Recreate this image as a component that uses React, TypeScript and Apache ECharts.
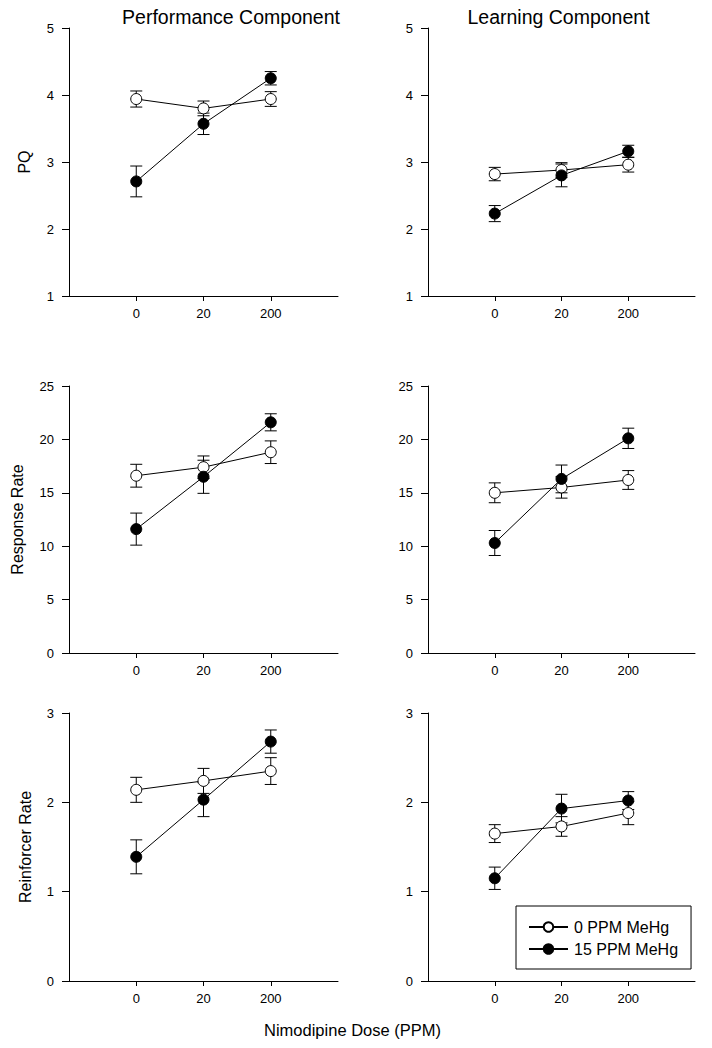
import React, { useEffect, useRef } from "react";
import * as echarts from "echarts";

// ---- data ----
const doses = ["0", "20", "200"];
const groups = ["0 PPM MeHg", "15 PPM MeHg"];
const panelTitles = ["Performance Component", "Learning Component"];
const yNames = ["PQ", "Response Rate", "Reinforcer Rate"];
const xName = "Nimodipine Dose (PPM)";
const yMin = [1, 0, 0];
const yMax = [5, 25, 3];
const yStep = [1, 5, 1];

// PQ
const pqPerfOpen = [3.94, 3.8, 3.94];
const pqPerfOpenSem = [0.12, 0.11, 0.11];
const pqPerfFilled = [2.71, 3.57, 4.25];
const pqPerfFilledSem = [0.23, 0.16, 0.1];
const pqLearnOpen = [2.82, 2.88, 2.96];
const pqLearnOpenSem = [0.1, 0.11, 0.11];
const pqLearnFilled = [2.23, 2.8, 3.16];
const pqLearnFilledSem = [0.12, 0.17, 0.09];
// Response rate
const rrPerfOpen = [16.6, 17.4, 18.8];
const rrPerfOpenSem = [1.07, 1.05, 1.06];
const rrPerfFilled = [11.6, 16.5, 21.6];
const rrPerfFilledSem = [1.5, 1.55, 0.8];
const rrLearnOpen = [15.0, 15.5, 16.2];
const rrLearnOpenSem = [0.93, 1.0, 0.88];
const rrLearnFilled = [10.3, 16.3, 20.1];
const rrLearnFilledSem = [1.17, 1.3, 0.95];
// Reinforcer rate
const sfPerfOpen = [2.14, 2.24, 2.35];
const sfPerfOpenSem = [0.14, 0.14, 0.15];
const sfPerfFilled = [1.39, 2.03, 2.68];
const sfPerfFilledSem = [0.19, 0.19, 0.13];
const sfLearnOpen = [1.65, 1.73, 1.88];
const sfLearnOpenSem = [0.1, 0.11, 0.13];
const sfLearnFilled = [1.15, 1.93, 2.02];
const sfLearnFilledSem = [0.125, 0.16, 0.1];

const panels = [
  [pqPerfOpen, pqPerfOpenSem, pqPerfFilled, pqPerfFilledSem],
  [pqLearnOpen, pqLearnOpenSem, pqLearnFilled, pqLearnFilledSem],
  [rrPerfOpen, rrPerfOpenSem, rrPerfFilled, rrPerfFilledSem],
  [rrLearnOpen, rrLearnOpenSem, rrLearnFilled, rrLearnFilledSem],
  [sfPerfOpen, sfPerfOpenSem, sfPerfFilled, sfPerfFilledSem],
  [sfLearnOpen, sfLearnOpenSem, sfLearnFilled, sfLearnFilledSem],
];

// ---- layout ----
const FONT = "'Liberation Sans', Arial, sans-serif";
const gridLeft = [69, 428];
const gridWidth = [269, 267];
const gridTop = [28, 386, 713];
const gridHeight = [268, 267, 268];
const yNameGap = [37, 44, 36];

function errorRender(params: any, api: any) {
  const x = api.value(0);
  const lo = api.coord([x, api.value(1)]);
  const hi = api.coord([x, api.value(2)]);
  const hw = 6;
  const style = { stroke: "#000", lineWidth: 1 };
  return {
    type: "group",
    children: [
      { type: "line", shape: { x1: lo[0], y1: lo[1], x2: hi[0], y2: hi[1] }, style },
      { type: "line", shape: { x1: lo[0] - hw, y1: lo[1], x2: lo[0] + hw, y2: lo[1] }, style },
      { type: "line", shape: { x1: hi[0] - hw, y1: hi[1], x2: hi[0] + hw, y2: hi[1] }, style },
    ],
  };
}

function buildOption() {
  const grid: any[] = [];
  const xAxis: any[] = [];
  const yAxis: any[] = [];
  const series: any[] = [];
  for (let r = 0; r < 3; r++) {
    for (let c = 0; c < 2; c++) {
      const i = r * 2 + c;
      grid.push({ left: gridLeft[c], top: gridTop[r], width: gridWidth[c], height: gridHeight[r] });
      xAxis.push({
        type: "value",
        gridIndex: i,
        min: 0,
        max: doses.length + 1,
        interval: 1,
        splitLine: { show: false },
        axisLine: { show: true, onZero: false, lineStyle: { color: "#000", width: 1 } },
        axisTick: {
          show: true,
          length: 5,
          customValues: doses.map((_, k) => k + 1),
          lineStyle: { color: "#000" },
        },
        axisLabel: {
          show: true,
          margin: 11,
          fontSize: 13,
          color: "#000",
          fontFamily: FONT,
          customValues: doses.map((_, k) => k + 1),
          formatter: (v: number) => doses[Math.round(v) - 1] ?? "",
        },
      });
      yAxis.push({
        type: "value",
        gridIndex: i,
        min: yMin[r],
        max: yMax[r],
        interval: yStep[r],
        splitLine: { show: false },
        axisLine: { show: true, lineStyle: { color: "#000", width: 1 } },
        axisTick: { show: true, length: 7, lineStyle: { color: "#000" } },
        axisLabel: { margin: 15, fontSize: 13, color: "#000", fontFamily: FONT },
        name: c === 0 ? yNames[r] : "",
        nameLocation: "middle",
        nameRotate: 90,
        nameGap: yNameGap[r],
        nameTextStyle: { fontSize: 16, color: "#000", fontFamily: FONT },
      });
      const [openV, openS, fillV, fillS] = panels[i];
      [
        [openV, openS],
        [fillV, fillS],
      ].forEach(([vals, sems], g) => {
        series.push({
          type: "custom",
          name: "err" + g,
          xAxisIndex: i,
          yAxisIndex: i,
          renderItem: errorRender,
          encode: { x: 0, y: [1, 2] },
          data: vals.map((v, k) => [k + 1, v - sems[k], v + sems[k]]),
          z: 1,
          silent: true,
        });
      });
      [openV, fillV].forEach((vals, g) => {
        series.push({
          type: "line",
          name: groups[g],
          xAxisIndex: i,
          yAxisIndex: i,
          data: vals.map((v, k) => [k + 1, v]),
          symbol: "circle",
          symbolSize: 11,
          showSymbol: true,
          lineStyle: { color: "#000", width: 1 },
          itemStyle: { color: g === 0 ? "#fff" : "#000", borderColor: "#000", borderWidth: 1, opacity: 1 },
          z: 3 + g,
        });
      });
    }
  }
  return {
    animation: false,
    backgroundColor: "#fff",
    textStyle: { fontFamily: FONT },
    grid,
    xAxis,
    yAxis,
    series,
    legend: {
      data: groups,
      orient: "vertical",
      left: 516,
      top: 906,
      width: 178,
      padding: [11, 13, 10, 12],
      itemGap: 2,
      itemWidth: 39,
      itemHeight: 12,
      borderColor: "#000",
      borderWidth: 1,
      textStyle: { fontSize: 16, color: "#000", fontFamily: FONT, lineHeight: 20, padding: [0, 0, 0, 1] },
      selectedMode: false,
    },
    graphic: [
      {
        type: "text",
        x: 231,
        y: 16.5,
        style: { text: panelTitles[0], fontSize: 19.5, fill: "#000", fontFamily: FONT, textAlign: "center", textVerticalAlign: "middle" },
      },
      {
        type: "text",
        x: 558.5,
        y: 16.5,
        style: { text: panelTitles[1], fontSize: 19.5, fill: "#000", fontFamily: FONT, textAlign: "center", textVerticalAlign: "middle" },
      },
      {
        type: "text",
        x: 352.5,
        y: 1030,
        style: { text: xName, fontSize: 16.5, fill: "#000", fontFamily: FONT, textAlign: "center", textVerticalAlign: "middle" },
      },
    ],
  };
}

export default function App() {
  const ref = useRef<HTMLDivElement>(null);
  useEffect(() => {
    if (!ref.current) return;
    const chart = echarts.init(ref.current, null, { renderer: "svg" });
    chart.setOption(buildOption() as any);
    return () => chart.dispose();
  }, []);
  return (
    <div
      ref={ref}
      style={{ position: "fixed", left: 0, top: 0, width: 712, height: 1048, background: "#fff" }}
    />
  );
}
